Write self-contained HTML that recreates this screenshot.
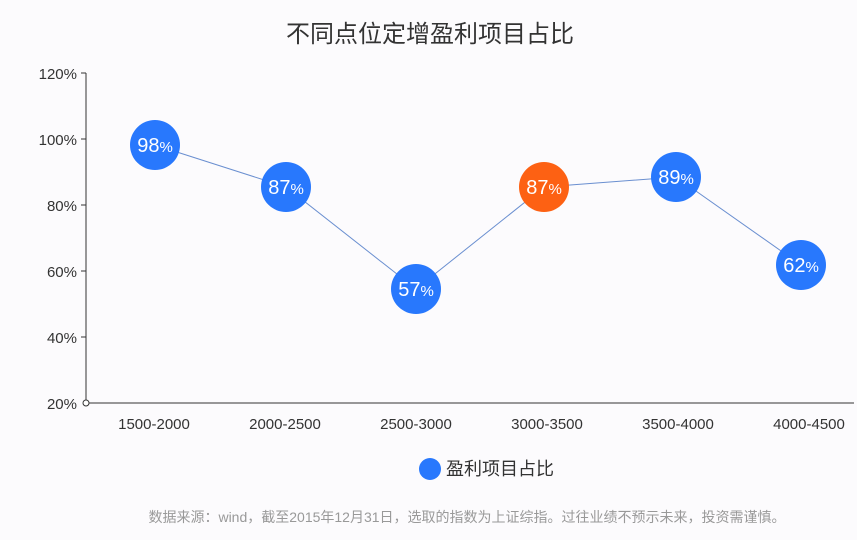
<!DOCTYPE html>
<html><head><meta charset="utf-8"><style>
body{margin:0;background:#fcfbfd;}
svg{display:block;font-family:"Liberation Sans","Noto Sans CJK SC",sans-serif;}
</style></head><body>
<svg width="857" height="540" viewBox="0 0 857 540">
<rect width="857" height="540" fill="#fcfbfd"/>
<text x="430" y="42" text-anchor="middle" font-size="24" fill="#333">不同点位定增盈利项目占比</text>
<g stroke="#333" stroke-width="1">
<line x1="86" y1="73" x2="86" y2="403"/>
<line x1="86" y1="403" x2="854" y2="403"/>
<line x1="81" y1="73" x2="86" y2="73"/><line x1="81" y1="139" x2="86" y2="139"/>
<line x1="81" y1="205" x2="86" y2="205"/><line x1="81" y1="271" x2="86" y2="271"/>
<line x1="81" y1="337" x2="86" y2="337"/>
</g>
<circle cx="86" cy="403" r="3" fill="#fff" stroke="#333"/>
<g font-size="15" fill="#333" text-anchor="end">
<text x="77" y="79">120%</text><text x="77" y="145">100%</text><text x="77" y="211">80%</text>
<text x="77" y="277">60%</text><text x="77" y="343">40%</text><text x="77" y="409">20%</text>
</g>
<g font-size="15" fill="#333" text-anchor="middle">
<text x="154" y="429">1500-2000</text><text x="285" y="429">2000-2500</text><text x="416" y="429">2500-3000</text>
<text x="547" y="429">3000-3500</text><text x="678" y="429">3500-4000</text><text x="809" y="429">4000-4500</text>
</g>
<polyline points="155,145 286,187 416,289 544,187 676,177 801,265" fill="none" stroke="#6a8fd0" stroke-width="1"/>
<g fill="#fff" text-anchor="middle">
<circle cx="155" cy="145" r="25" fill="#2878fd"/><text x="155" y="152" font-size="20">98<tspan font-size="15">%</tspan></text>
<circle cx="286" cy="187" r="25" fill="#2878fd"/><text x="286" y="194" font-size="20">87<tspan font-size="15">%</tspan></text>
<circle cx="416" cy="289" r="25" fill="#2878fd"/><text x="416" y="296" font-size="20">57<tspan font-size="15">%</tspan></text>
<circle cx="544" cy="187" r="25" fill="#fd6113"/><text x="544" y="194" font-size="20">87<tspan font-size="15">%</tspan></text>
<circle cx="676" cy="177" r="25" fill="#2878fd"/><text x="676" y="184" font-size="20">89<tspan font-size="15">%</tspan></text>
<circle cx="801" cy="265" r="25" fill="#2878fd"/><text x="801" y="272" font-size="20">62<tspan font-size="15">%</tspan></text>
</g>
<circle cx="430" cy="469" r="11" fill="#2878fd"/>
<text x="446" y="475" font-size="18" fill="#333">盈利项目占比</text>
<text x="467" y="522" text-anchor="middle" font-size="14" fill="#999">数据来源：wind，截至2015年12月31日，选取的指数为上证综指。过往业绩不预示未来，投资需谨慎。</text>
</svg>
</body></html>
